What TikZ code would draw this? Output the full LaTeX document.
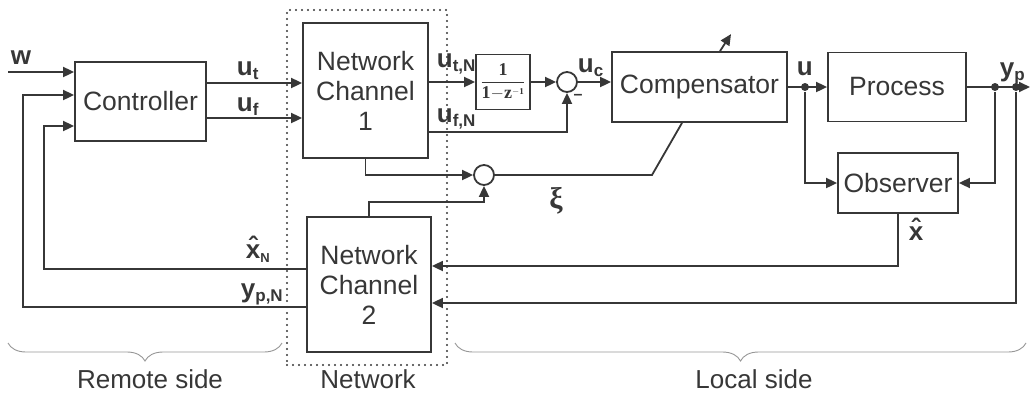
\documentclass[tikz,border=0pt]{standalone}
\usepackage{amsmath}
\usepackage{fontspec}
\setmainfont{Liberation Sans}
\setmathrm{Liberation Serif}
\newfontfamily\serifb{Liberation Serif}
\usetikzlibrary{arrows.meta,decorations.pathreplacing,calc}
\definecolor{ink}{RGB}{55,55,55}
\definecolor{bracecol}{RGB}{150,150,150}
\newcommand\sbl[2]{\textbf{#1}\raisebox{-0.35ex}{\fontsize{17}{17}\selectfont\textbf{#2}}}
\newcommand\hatx{\textbf{\ooalign{x\cr\hidewidth\raisebox{2.5pt}{ˆ}\hidewidth\cr}}}
\begin{document}
\begin{tikzpicture}[x=1pt,y=-1pt,color=ink,line width=1.8pt,
  blk/.style={draw=ink,line width=1.8pt,rectangle,inner sep=0pt,align=center,
    font=\fontsize{26.5}{30}\selectfont},
  sumc/.style={draw=ink,circle,minimum size=20pt,inner sep=0pt,line width=1.8pt},
  arr/.style={-{Triangle[length=11pt,width=10pt]}},
  lbl/.style={inner sep=0pt,anchor=base west,font=\fontsize{26}{28}\selectfont},
  dotp/.style={circle,fill=ink,inner sep=0pt,minimum size=8pt},
  netbox/.style={draw=ink,line width=2.4pt,line cap=round,dash pattern=on 0pt off 6pt,
    rectangle,inner sep=0pt},
  bracestyle/.style={draw=bracecol,line width=0.9pt,decorate,
    decoration={brace,mirror,amplitude=18pt}},
  bottomlbl/.style={inner sep=0pt,anchor=base,font=\fontsize{26}{28}\selectfont}
]
\useasboundingbox (0,0) rectangle (1030,392);

% dotted network region
\node[netbox,minimum width=160pt,minimum height=355pt] (net) at (367,187.5) {};

% blocks
\node[blk,minimum width=131pt,minimum height=79pt] (ctrl) at (140.5,101.5) {Controller};
\node[blk,minimum width=125pt,minimum height=135pt] (nc1) at (365.5,90.5) {Network\\Channel\\1};
\node[blk,minimum width=124pt,minimum height=135pt] (nc2) at (369,284.5) {Network\\Channel\\2};
\node[blk,minimum width=54pt,minimum height=55pt] (tf) at (503,82)
  {\fontsize{18}{20}\selectfont$\dfrac{\mathbf{1}}{\mathbf{1}{-}\mathbf{z}^{\scriptscriptstyle\mathbf{-1}}}$};
\node[sumc] (s1) at (567,82) {};
\node[sumc] (s2) at (484,175) {};
\node[blk,minimum width=175pt,minimum height=70pt] (comp) at (699.5,87) {Compensator};
\node[blk,minimum width=138pt,minimum height=69pt] (proc) at (897,87) {Process};
\node[blk,minimum width=120pt,minimum height=60pt] (obs) at (898,183) {Observer};

% junction dots
\node[dotp] (du) at (805,87) {};
\node[dotp] (dy1) at (995,87) {};
\node[dotp] (dy2) at (1016,87) {};

% free ends
\coordinate (win) at (8,72);
\coordinate (fbx) at (44,269);
\coordinate (fby) at (23,307);
\coordinate (yout) at (1030,87);
\coordinate (k1) at (652,175);

% controller inputs
\draw[arr] (win) -- (win -| ctrl.west);
\draw[arr] (nc2.west |- fbx) -- (fbx) |- (ctrl.west |- 0,126);
\draw[arr] (nc2.west |- fby) -- (fby) |- (ctrl.west |- 0,95);

% controller outputs
\draw[arr] (ctrl.east |- 0,83) -- (nc1.west |- 0,83);
\draw[arr] (ctrl.east |- 0,118) -- (nc1.west |- 0,118);

% channel 1 outputs
\draw[arr] (nc1.east |- tf.west) -- (tf.west);
\draw[arr] (tf.east) -- (s1.west);
\draw[arr] (nc1.east |- 0,132) -| (s1.south);
\draw[arr] (s1.east) -- (s1.east -| comp.west);
\draw[arr] (nc1.south) |- (s2.west);
\draw[arr] (nc2.north) -- ++(0,-14) -| (s2.south);
\draw (s2.east) -- (k1) -- (comp.south -| 682,0);
\draw[arr] (comp.north -| 720,0) -- ++(11,-17);

% plant side
\draw[arr] (comp.east) -- (proc.west);
\draw[arr] (du) |- (obs.west);
\draw[arr] (proc.east) -- (yout);
\draw[arr] (dy1) |- (obs.east);
\draw[arr] (dy2) |- (nc2.east |- 0,303);
\draw[arr] (obs.south) |- (nc2.east |- 0,266);

% labels
\node[lbl] (lw) at (10,64) {\textbf{w}};
\node[lbl] (lut) at (236,75) {\sbl{u}{t}};
\node[lbl] (luf) at (236,111) {\sbl{u}{f}};
\node[lbl] (lutn) at (436,67) {\sbl{u}{t,N}};
\node[lbl] (lufn) at (436,122) {\sbl{u}{f,N}};
\node[lbl] (luc) at (577,72) {\sbl{u}{c}};
\node[inner sep=0pt] (lminus) at (578,97) {\fontsize{16}{16}\selectfont\textbf{–}};
\node[lbl] (lu) at (796,75) {\textbf{u}};
\node[lbl] (lyp) at (999,76) {\sbl{y}{p}};
\node[inner sep=0pt] (lxi) at (556,201) {\fontsize{30}{30}\selectfont\serifb\bfseries ξ};
\node[lbl,anchor=base] (lxh) at (916,240) {\hatx};
\node[lbl] (lxhn) at (245,258) {\hatx\raisebox{-0.35ex}{\fontsize{13}{13}\selectfont\textbf{N}}};
\node[lbl] (lypn) at (240,297) {\sbl{y}{p,N}};

% braces
\coordinate (rb1) at (8,343);
\coordinate (rb2) at (282,343);
\coordinate (lb1) at (455,343);
\coordinate (lb2) at (1026,343);
\draw[bracestyle] (rb1) -- (rb2);
\draw[bracestyle] (lb1) -- (lb2);
\node[bottomlbl] (lrem) at (150,388) {Remote side};
\node[bottomlbl] (lnet) at (368,388) {Network};
\node[bottomlbl] (lloc) at (754,388) {Local side};
\end{tikzpicture}
\end{document}
